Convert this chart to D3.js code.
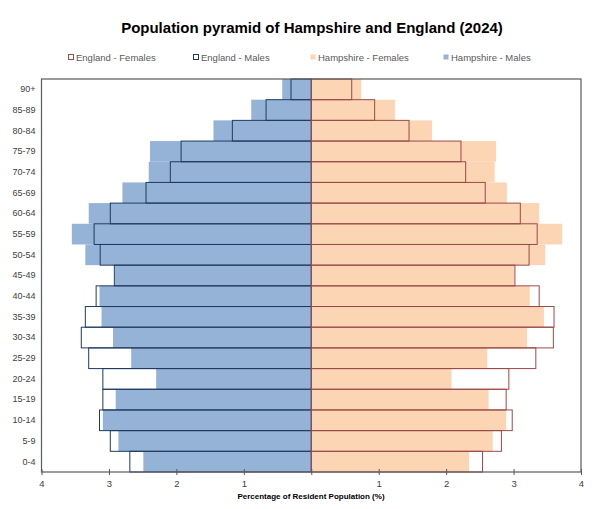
<!DOCTYPE html>
<html>
<head>
<meta charset="utf-8">
<script src="https://cdn.jsdelivr.net/npm/d3@7"></script>
<style>
  body { margin: 0; background: #fff; }
  text { font-family: "Liberation Sans", Arial, sans-serif; }
</style>
</head>
<body>
<div id="chart"></div>
<script>
// age bands, top of the pyramid first
var ageBands = ["90+", "85-89", "80-84", "75-79", "70-74", "65-69", "60-64", "55-59", "50-54",
  "45-49", "40-44", "35-39", "30-34", "25-29", "20-24", "15-19", "10-14", "5-9", "0-4"];

var hampshireMales   = [0.43, 0.89, 1.45, 2.39, 2.41, 2.80, 3.30, 3.55, 3.35, 2.91, 3.14, 3.11, 2.94, 2.67, 2.30, 2.90, 3.09, 2.86, 2.49];
var englandMales     = [0.30, 0.67, 1.17, 1.93, 2.09, 2.45, 2.98, 3.22, 3.13, 2.92, 3.19, 3.35, 3.41, 3.30, 3.09, 3.09, 3.14, 2.98, 2.69];
var hampshireFemales = [0.74, 1.24, 1.79, 2.74, 2.72, 2.90, 3.38, 3.72, 3.47, 3.01, 3.24, 3.45, 3.20, 2.61, 2.08, 2.63, 2.89, 2.69, 2.34];
var englandFemales   = [0.60, 0.94, 1.45, 2.22, 2.29, 2.58, 3.10, 3.35, 3.23, 3.02, 3.38, 3.60, 3.59, 3.33, 2.93, 2.89, 2.98, 2.82, 2.54];

var xTicks = [-4, -3, -2, -1, 0, 1, 2, 3, 4];

var width = 599, height = 509;

var svg = d3.select("#chart").append("svg")
  .attr("width", width)
  .attr("height", height);

var x = d3.scaleLinear().domain([-4, 4]).range([41.5, 581]);
var y = d3.scaleBand().domain(ageBands).range([79, 472]).padding(0);

var navy = "#1f3a60", maroon = "#9a4a48", frame = "#5a5a5a";

// title
svg.append("text")
  .attr("x", 312).attr("y", 33)
  .attr("text-anchor", "middle")
  .attr("font-size", 15).attr("font-weight", "bold")
  .attr("fill", "#000")
  .text("Population pyramid of Hampshire and England (2024)");

// legend
var legend = [
  { name: "England - Females", x: 68, fill: "#fff", stroke: maroon },
  { name: "England - Males", x: 193, fill: "#fff", stroke: navy },
  { name: "Hampshire - Females", x: 310, fill: "#fcd5b5", stroke: "none" },
  { name: "Hampshire - Males", x: 443, fill: "#95b3d7", stroke: "none" }
];
var lg = svg.selectAll(".lg").data(legend).enter().append("g")
  .attr("transform", d => "translate(" + d.x + ",57)");
lg.append("rect")
  .attr("x", 0.5).attr("y", -2.5).attr("width", 5).attr("height", 5)
  .attr("fill", d => d.fill).attr("stroke", d => d.stroke);
lg.append("text")
  .attr("x", 8).attr("y", 3.5)
  .attr("font-size", 9.5).attr("fill", "#595959")
  .text(d => d.name);

var rows = ageBands.map((a, i) => ({
  age: a, hm: hampshireMales[i], em: englandMales[i], hf: hampshireFemales[i], ef: englandFemales[i]
}));

// Hampshire filled bars behind
svg.selectAll(".hm").data(rows).enter().append("rect")
  .attr("x", d => x(-d.hm)).attr("y", d => y(d.age))
  .attr("width", d => x(0) - x(-d.hm)).attr("height", y.bandwidth())
  .attr("fill", "#95b3d7");
svg.selectAll(".hf").data(rows).enter().append("rect")
  .attr("x", x(0)).attr("y", d => y(d.age))
  .attr("width", d => x(d.hf) - x(0)).attr("height", y.bandwidth())
  .attr("fill", "#fcd5b5");

// England outlines on top
svg.selectAll(".em").data(rows).enter().append("rect")
  .attr("x", d => x(-d.em)).attr("y", d => y(d.age))
  .attr("width", d => x(0) - x(-d.em)).attr("height", y.bandwidth())
  .attr("fill", "none").attr("stroke", navy).attr("stroke-width", 1);
svg.selectAll(".ef").data(rows).enter().append("rect")
  .attr("x", x(0)).attr("y", d => y(d.age))
  .attr("width", d => x(d.ef) - x(0)).attr("height", y.bandwidth())
  .attr("fill", "none").attr("stroke", maroon).attr("stroke-width", 1);

// plot frame
svg.append("rect")
  .attr("x", x(-4)).attr("y", 79)
  .attr("width", x(4) - x(-4)).attr("height", 472 - 79)
  .attr("fill", "none").attr("stroke", frame).attr("stroke-width", 1.2);

// x axis
var xAxis = svg.append("g").attr("transform", "translate(0,472)")
  .call(d3.axisBottom(x).tickValues(xTicks).tickSize(4)
    .tickFormat(d => d === 0 ? "" : Math.abs(d)));
xAxis.select(".domain").remove();
xAxis.selectAll(".tick line").attr("y1", -3).attr("y2", 3).attr("stroke", frame);
xAxis.selectAll(".tick text").attr("y", 8).attr("font-size", 9.5).attr("fill", "#404040")
  .attr("font-family", "Liberation Sans, Arial, sans-serif");

svg.append("text")
  .attr("x", 311).attr("y", 499)
  .attr("text-anchor", "middle")
  .attr("font-size", 8).attr("font-weight", "bold").attr("fill", "#000")
  .text("Percentage of Resident Population (%)");

// y axis labels
var yAxis = svg.append("g").attr("transform", "translate(" + x(-4) + ",0)")
  .call(d3.axisLeft(y).tickSize(0).tickPadding(6));
yAxis.select(".domain").remove();
yAxis.selectAll(".tick text").attr("font-size", 9).attr("fill", "#404040")
  .attr("font-family", "Liberation Sans, Arial, sans-serif");
</script>
</body>
</html>
